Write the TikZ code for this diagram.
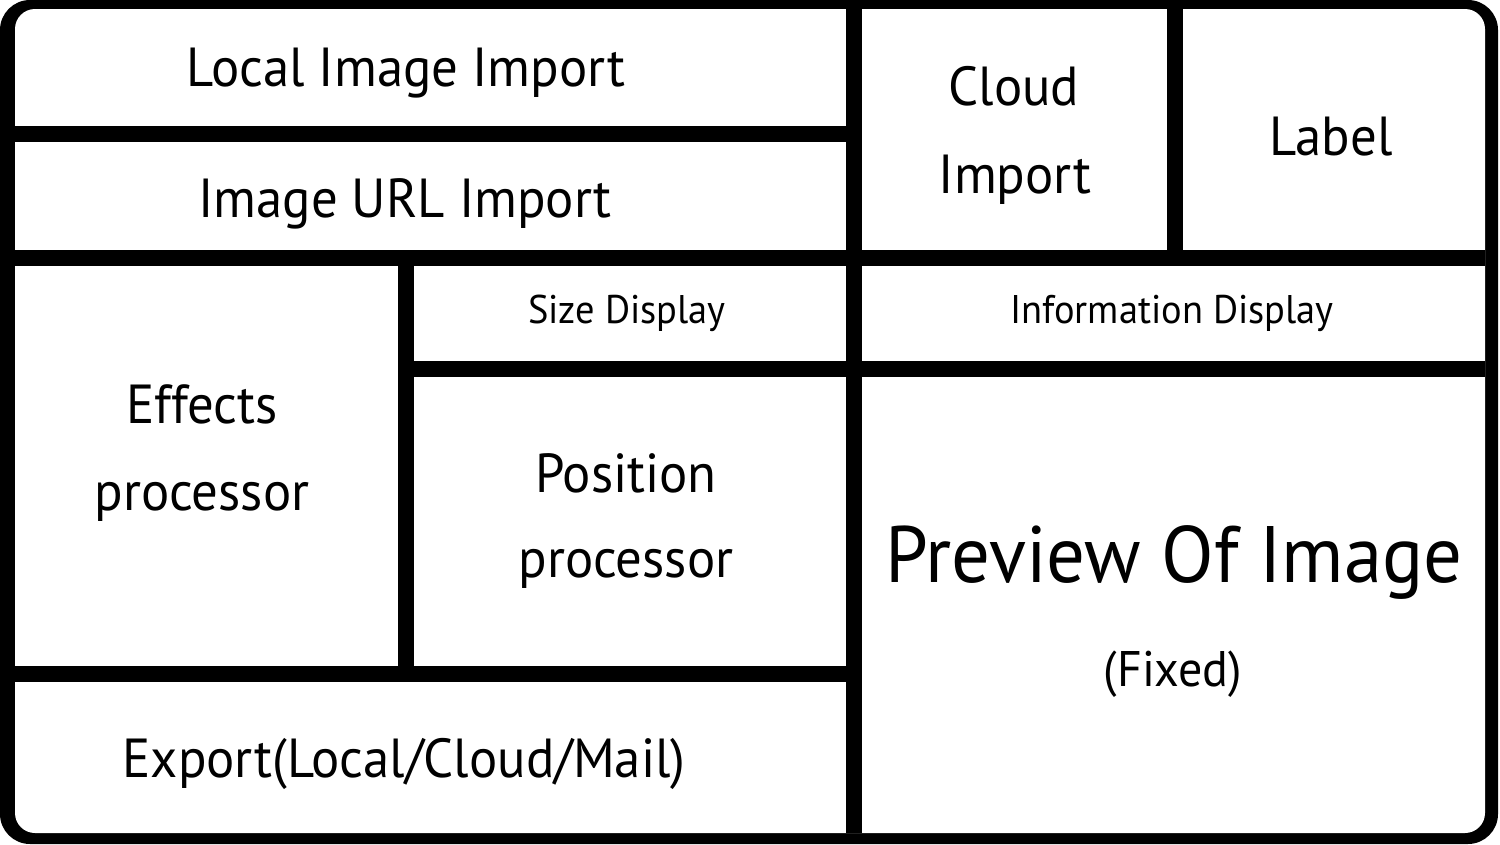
\documentclass[tikz,border=0pt]{standalone}
\usepackage{fontspec}
\setmainfont{PT Sans}[FakeStretch=0.96]
\begin{document}
\begin{tikzpicture}[x=1pt,y=-1pt,
    bar/.style={line width=16pt},
    txt/.style={anchor=base, inner sep=0pt},
    mid/.style={txt, font=\fontsize{55}{60}\selectfont},
    small/.style={txt, font=\fontsize{40}{44}\selectfont},
    huge/.style={txt, font=\fontsize{80}{90}\selectfont},
    fixd/.style={txt, font=\fontsize{50}{55}\selectfont}]
    \useasboundingbox (0,0) rectangle (1500,844);

    % Outer frame
    \fill[black, rounded corners=30pt] (0,0) rectangle (1498,844);
    \fill[white, rounded corners=20pt] (15,9) rectangle (1485,833);

    % Dividers
    \draw[bar] (854,9) -- (854,833);
    \draw[bar] (15,134) -- (846,134);
    \draw[bar] (15,258) -- (1485,258);
    \draw[bar] (1175,9) -- (1175,250);
    \draw[bar] (406,368.5) -- (1485,368.5);
    \draw[bar] (406,266) -- (406,666);
    \draw[bar] (15,674) -- (854,674);

    % Import area
    \node[mid] (local) at (406,86) {Local Image Import};
    \node[mid] (url) at (405,217) {Image URL Import};
    \node[mid] (cloudA) at (1014,105) {Cloud};
    \node[mid] (cloudB) at (1015,193) {Import};
    \node[mid] (label) at (1331,155) {Label};

    % Processing area
    \node[small] (size) at (627,323) {Size Display};
    \node[small] (info) at (1172,323) {Information Display};
    \node[mid] (effA) at (202,423) {Effects};
    \node[mid] (effB) at (202,510) {processor};
    \node[mid] (posA) at (626,492) {Position};
    \node[mid] (posB) at (626,577) {processor};

    % Preview and export
    \node[huge] (preview) at (1174,582) {Preview Of Image};
    \node[fixd] (fixed) at (1173,686) {(Fixed)};
    \node[mid] (export) at (404,777) {Export(Local/Cloud/Mail)};
\end{tikzpicture}
\end{document}
